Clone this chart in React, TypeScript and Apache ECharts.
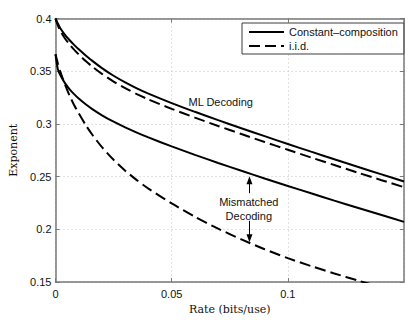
import React, { useEffect, useRef } from "react";
import * as echarts from "echarts";

const rates = [0, 0.001, 0.002, 0.004, 0.006, 0.008, 0.01, 0.013, 0.016, 0.02, 0.025, 0.03, 0.035, 0.04, 0.05, 0.06, 0.07, 0.08, 0.09, 0.1, 0.11, 0.12, 0.13, 0.14, 0.15];

const mlConstComp = [0.4, 0.3952, 0.391, 0.3848, 0.3796, 0.375, 0.3708, 0.3650, 0.3596, 0.3530, 0.3457, 0.3394, 0.3338, 0.3288, 0.3198, 0.3115, 0.3036, 0.2959, 0.2884, 0.2810, 0.2737, 0.2665, 0.2594, 0.2524, 0.2454];
const mlIid = [0.4, 0.3935, 0.3885, 0.3813, 0.3756, 0.3705, 0.366, 0.3596, 0.3541, 0.3475, 0.3402, 0.3339, 0.3283, 0.3233, 0.3143, 0.306, 0.2981, 0.2904, 0.2829, 0.2755, 0.2682, 0.261, 0.2539, 0.2469, 0.24];
const mmConstComp = [0.366, 0.352, 0.3465, 0.3389, 0.3331, 0.3283, 0.3241, 0.3186, 0.3138, 0.3082, 0.3021, 0.2967, 0.2918, 0.2872, 0.2787, 0.2707, 0.263, 0.2556, 0.2483, 0.2412, 0.2342, 0.2273, 0.2205, 0.2138, 0.2071];
const mmIid = [0.366, 0.3575, 0.3502, 0.3378, 0.3272, 0.318, 0.31, 0.299, 0.2893, 0.278, 0.266, 0.2557, 0.2467, 0.2387, 0.2246, 0.212, 0.2007, 0.1905, 0.1812, 0.1727, 0.1652, 0.1582, 0.1516, 0.1453, 0.1392];

const legendNames = ["Constant\u2013composition", "i.i.d."];
const xTickLabels = ["0", "0.05", "0.1"];
const yTickLabels = ["0.15", "0.2", "0.25", "0.3", "0.35", "0.4"];

const annoML = { text: "ML Decoding", rate: 0.0711, value: 0.3206 };
const annoMM1 = { text: "Mismatched", rate: 0.0832, value: 0.2256 };
const annoMM2 = { text: "Decoding", rate: 0.0832, value: 0.2125 };
const arrowUp = { rate: 0.0835, from: 0.2343, to: 0.2465 };
const arrowDown = { rate: 0.0835, from: 0.2081, to: 0.1915 };

const pairs = (ys: number[]) => rates.map((r, i) => [r, ys[i]]);

const SANS = "'Liberation Sans', Arial, Helvetica, sans-serif";
const SERIF = "'DejaVu Serif', serif";
const FRAME = "#787878";

export default function App() {
  const ref = useRef<HTMLDivElement>(null);
  useEffect(() => {
    if (!ref.current) return;
    const chart = echarts.init(ref.current, undefined, { renderer: "svg" });
    const fmtX = (v: number) => {
      const s = String(Math.round(v * 1000) / 1000);
      return xTickLabels.includes(s) ? s : "";
    };
    const fmtY = (v: number) => {
      const s = String(Math.round(v * 1000) / 1000);
      return yTickLabels.includes(s) ? s : "";
    };
    const solid = { color: "#000", width: 2, type: "solid" as const };
    const dashed = { color: "#000", width: 2, type: [11, 5] as any };
    const base = {
      type: "line" as const,
      symbol: "none",
      smooth: 0.25,
      clip: true,
      silent: true,
      z: 3,
    };
    chart.setOption({
      animation: false,
      backgroundColor: "#fff",
      grid: { left: 55.5, right: 8, top: 18.5, bottom: 35, containLabel: false },
      legend: {
        data: [{ name: legendNames[0] }, { name: legendNames[1] }],
        orient: "vertical",
        left: 242,
        top: 23,
        itemWidth: 35,
        itemHeight: 10,
        itemGap: 2,
        padding: [3, 6, 2, 6],
        backgroundColor: "#fff",
        borderColor: "#3c3c3c",
        borderWidth: 1,
        borderRadius: 0,
        itemStyle: { opacity: 0 },
        textStyle: { fontFamily: SANS, fontSize: 11, color: "#111", lineHeight: 12 },
        selectedMode: false,
      },
      xAxis: [
        {
          type: "value",
          min: 0,
          max: 0.15,
          interval: 0.05,
          axisLine: { show: true, lineStyle: { color: FRAME, width: 1.5 } },
          axisTick: { show: true, inside: true, length: 4, lineStyle: { color: FRAME } },
          axisLabel: { formatter: fmtX, fontFamily: SANS, fontSize: 11, color: "#111", margin: 6, showMaxLabel: false },
          splitLine: { show: true, lineStyle: { color: "#c4c4c4", width: 1, type: [1, 3] } },
          name: "Rate (bits/use)",
          nameLocation: "middle",
          nameGap: 17,
          nameTextStyle: { fontFamily: SERIF, fontSize: 11, color: "#111" },
        },
        {
          type: "value",
          position: "top",
          min: 0,
          max: 0.15,
          interval: 0.05,
          axisLine: { show: true, onZero: false, lineStyle: { color: FRAME, width: 1.5 } },
          axisTick: { show: true, inside: true, length: 4, lineStyle: { color: FRAME } },
          axisLabel: { show: false },
          splitLine: { show: false },
        },
      ],
      yAxis: [
        {
          type: "value",
          min: 0.15,
          max: 0.4,
          interval: 0.05,
          axisLine: { show: true, lineStyle: { color: FRAME, width: 1.5 } },
          axisTick: { show: true, inside: true, length: 4, lineStyle: { color: FRAME } },
          axisLabel: { formatter: fmtY, fontFamily: SANS, fontSize: 11, color: "#111", margin: 4 },
          splitLine: { show: true, lineStyle: { color: "#c4c4c4", width: 1, type: [1, 3] } },
          name: "Exponent",
          nameLocation: "middle",
          nameGap: 28,
          nameRotate: 90,
          nameTextStyle: { fontFamily: SERIF, fontSize: 11, color: "#111" },
        },
        {
          type: "value",
          position: "right",
          min: 0.15,
          max: 0.4,
          interval: 0.05,
          axisLine: { show: true, onZero: false, lineStyle: { color: FRAME, width: 1.5 } },
          axisTick: { show: true, inside: true, length: 4, lineStyle: { color: FRAME } },
          axisLabel: { show: false },
          splitLine: { show: false },
        },
      ],
      series: [
        {
          ...base,
          name: legendNames[0],
          data: pairs(mlConstComp),
          lineStyle: solid,
          itemStyle: { color: "#000" },
          markPoint: {
            symbol: "circle",
            symbolSize: 0,
            silent: true,
            label: {
              show: true,
              position: "inside",
              fontFamily: SANS,
              fontSize: 11,
              color: "#111",
              formatter: (p: any) => p.name,
            },
            data: [
              { name: annoML.text, coord: [annoML.rate, annoML.value] },
              { name: annoMM1.text, coord: [annoMM1.rate, annoMM1.value] },
              { name: annoMM2.text, coord: [annoMM2.rate, annoMM2.value] },
            ],
          },
          markLine: {
            silent: true,
            symbol: ["none", "triangle"],
            symbolSize: [6, 8],
            label: { show: false },
            lineStyle: { color: "#000", width: 1, type: "solid" },
            itemStyle: { color: "#000" },
            data: [
              [{ coord: [arrowUp.rate, arrowUp.from] }, { coord: [arrowUp.rate, arrowUp.to] }],
              [{ coord: [arrowDown.rate, arrowDown.from] }, { coord: [arrowDown.rate, arrowDown.to] }],
            ],
          },
        },
        { ...base, name: legendNames[1], data: pairs(mlIid), lineStyle: dashed, itemStyle: { color: "#000" } },
        { ...base, name: legendNames[0], data: pairs(mmConstComp), lineStyle: solid, itemStyle: { color: "#000" } },
        { ...base, name: legendNames[1], data: pairs(mmIid), lineStyle: dashed, itemStyle: { color: "#000" } },
      ],
    });
    return () => chart.dispose();
  }, []);
  return (
    <div
      ref={ref}
      style={{ position: "fixed", left: 0, top: 0, width: 412, height: 320, background: "#fff" }}
    />
  );
}
